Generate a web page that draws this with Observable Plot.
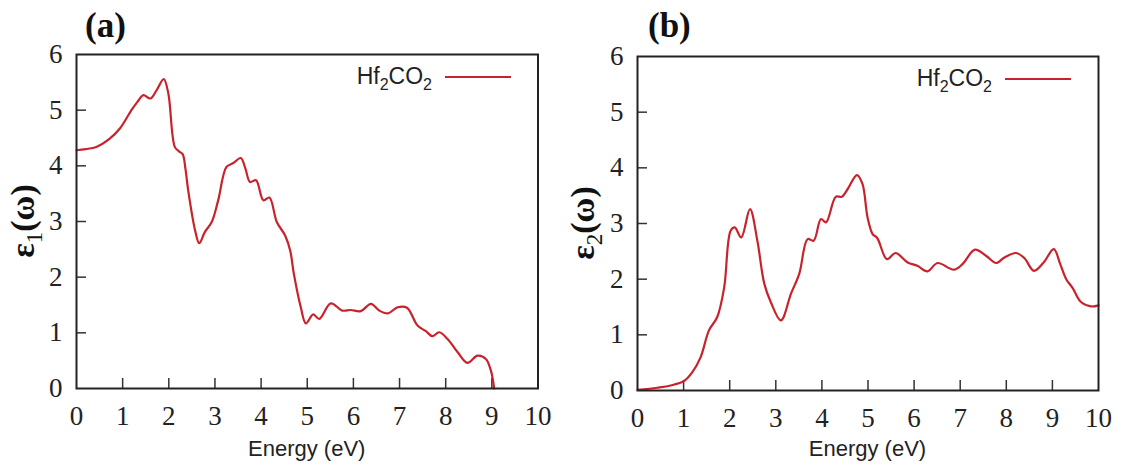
<!DOCTYPE html>
<html><head><meta charset="utf-8">
<script src="https://cdn.jsdelivr.net/npm/d3@7"></script>
<script src="https://cdn.jsdelivr.net/npm/@observablehq/plot@0.6"></script>
<style>
html,body{margin:0;padding:0;background:#fff;}
#wrap{position:relative;width:1121px;height:469px;overflow:hidden;background:#fff;}
#wrap svg{position:absolute;top:0;overflow:visible;}
</style></head><body><div id="wrap"></div>
<script>
// ---- data ----
const xTicks = [0,1,2,3,4,5,6,7,8,9,10];
const yTicks = [0,1,2,3,4,5,6];
const seriesName = ["Hf", "2", "CO", "2"]; // Hf2CO2 with subscripts
const panelLabels = ["(a)", "(b)"];
const yLabels = [["ε","1","(ω)"], ["ε","2","(ω)"]];
const xLabel = "Energy (eV)";

const energyA = [0, 0.2, 0.43, 0.72, 0.94, 1.19, 1.32, 1.45, 1.6, 1.75, 1.89, 1.99, 2.13, 2.22, 2.30, 2.36, 2.42, 2.57, 2.66, 2.78, 2.93, 3.07, 3.25, 3.40, 3.56, 3.66, 3.76, 3.89, 4.05, 4.18, 4.34, 4.52, 4.63, 4.71, 4.86, 4.97, 5.13, 5.26, 5.51, 5.76, 5.94, 6.16, 6.38, 6.56, 6.75, 6.96, 7.16, 7.39, 7.57, 7.71, 7.86, 8.04, 8.26, 8.47, 8.69, 8.87, 8.98, 9.05];
const eps1 = [4.28, 4.30, 4.34, 4.49, 4.67, 5.00, 5.15, 5.27, 5.21, 5.38, 5.56, 5.30, 4.34, 4.26, 4.21, 3.95, 3.56, 2.84, 2.61, 2.81, 2.99, 3.38, 3.98, 4.05, 4.14, 3.95, 3.71, 3.74, 3.38, 3.43, 2.99, 2.75, 2.48, 2.06, 1.46, 1.17, 1.33, 1.25, 1.53, 1.40, 1.41, 1.39, 1.52, 1.40, 1.35, 1.46, 1.45, 1.13, 1.03, 0.94, 1.01, 0.89, 0.65, 0.46, 0.59, 0.53, 0.32, 0.0];

const energyB = [0, 0.43, 0.72, 1.01, 1.19, 1.37, 1.55, 1.73, 1.88, 2.02, 2.11, 2.25, 2.44, 2.60, 2.75, 2.89, 3.11, 3.33, 3.51, 3.69, 3.82, 3.98, 4.09, 4.30, 4.43, 4.56, 4.76, 4.88, 4.99, 5.10, 5.20, 5.41, 5.60, 5.86, 6.07, 6.29, 6.51, 6.86, 7.05, 7.32, 7.56, 7.78, 7.96, 8.21, 8.39, 8.60, 8.81, 9.03, 9.17, 9.30, 9.44, 9.62, 9.84, 10.0];
const eps2 = [0.01, 0.05, 0.09, 0.17, 0.33, 0.60, 1.08, 1.32, 1.85, 2.87, 2.93, 2.75, 3.26, 2.69, 1.92, 1.59, 1.26, 1.74, 2.10, 2.72, 2.69, 3.08, 3.02, 3.48, 3.48, 3.62, 3.87, 3.71, 3.11, 2.81, 2.74, 2.36, 2.47, 2.30, 2.24, 2.14, 2.29, 2.17, 2.27, 2.53, 2.42, 2.29, 2.39, 2.47, 2.38, 2.15, 2.30, 2.54, 2.27, 2.00, 1.84, 1.59, 1.51, 1.53];

const RED = "#c8232c";
const SERIF = "'Liberation Serif','Times New Roman',serif";
const SANS = "'Liberation Sans',Arial,sans-serif";

function panel(E, V, idx, cfg) {
  const data = E.map((e, i) => ({E: e, v: V[i]}));
  const plotH = cfg.height - cfg.mt - cfg.mb;
  const plotW = cfg.width - cfg.ml - cfg.mr;
  const svg = Plot.plot({
    width: cfg.width, height: cfg.height,
    marginLeft: cfg.ml, marginRight: cfg.mr, marginTop: cfg.mt, marginBottom: cfg.mb,
    x: {domain: [0, 10]},
    y: {domain: [0, 6]},
    style: {background: "transparent", color: "#222", overflow: "visible"},
    marks: [
      Plot.tickX(xTicks.slice(1, -1), {x: d => d, stroke: "#333", strokeWidth: 1.5, insetTop: plotH - 10}),
      Plot.tickY(yTicks.slice(1, -1), {y: d => d, stroke: "#333", strokeWidth: 1.5, insetRight: plotW - 10}),
      Plot.axisX(xTicks, {tickSize: 0, tickPadding: 17, fontSize: 27, fontFamily: SERIF, fill: "#222", label: null, tickFormat: d => String(d)}),
      Plot.axisY(yTicks, {tickSize: 0, tickPadding: 14, fontSize: 27, fontFamily: SERIF, fill: "#222", label: null, tickFormat: d => String(d)}),
      Plot.line(data, {x: "E", y: "v", stroke: RED, strokeWidth: 2.2, curve: "catmull-rom"}),
      Plot.frame({stroke: "#222", strokeWidth: 2})
    ]
  });
  svg.style.left = cfg.left + "px";
  const s = d3.select(svg);
  // panel label
  s.append("text").attr("x", cfg.labelX).attr("y", 37).attr("text-anchor", "start")
    .attr("font-family", SERIF).attr("font-weight", "bold").attr("font-size", 35)
    .attr("fill", "#111").text(panelLabels[idx]);
  // y label
  const cy = cfg.mt + plotH / 2;
  const yl = s.append("text")
    .attr("transform", `translate(${cfg.ylabX},${cy}) rotate(-90)`)
    .attr("text-anchor", "middle")
    .attr("font-family", SERIF).attr("font-weight", "bold").attr("font-size", 34).attr("fill", "#111");
  yl.append("tspan").text(yLabels[idx][0]);
  yl.append("tspan").attr("font-size", 23).attr("font-weight", "normal").attr("dy", 8).text(yLabels[idx][1]);
  yl.append("tspan").attr("dy", -8).text(yLabels[idx][2]);
  // x label
  s.append("text").attr("x", cfg.ml + plotW / 2).attr("y", 456)
    .attr("text-anchor", "middle").attr("font-family", SANS).attr("font-size", 22)
    .attr("fill", "#222").text(xLabel);
  // legend
  const lg = s.append("text").attr("x", 432).attr("y", cfg.legY + 7)
    .attr("text-anchor", "end").attr("font-family", SANS).attr("font-size", 23).attr("fill", "#222");
  lg.append("tspan").text(seriesName[0]);
  lg.append("tspan").attr("font-size", 16).attr("dy", 6).text(seriesName[1]);
  lg.append("tspan").attr("dy", -6).text(seriesName[2]);
  lg.append("tspan").attr("font-size", 16).attr("dy", 6).text(seriesName[3]);
  s.append("line").attr("x1", 445).attr("x2", 511).attr("y1", cfg.legY).attr("y2", cfg.legY)
    .attr("stroke", RED).attr("stroke-width", 2.2);
  document.getElementById("wrap").appendChild(svg);
}

panel(energyA, eps1, 0, {left: 0, width: 560, height: 469, ml: 76, mr: 22.5, mt: 54, mb: 81, labelX: 85, ylabX: 34, legY: 77});
panel(energyB, eps2, 1, {left: 560, width: 561, height: 469, ml: 77, mr: 23, mt: 56, mb: 79, labelX: 88, ylabX: 34, legY: 79});
</script></body></html>
